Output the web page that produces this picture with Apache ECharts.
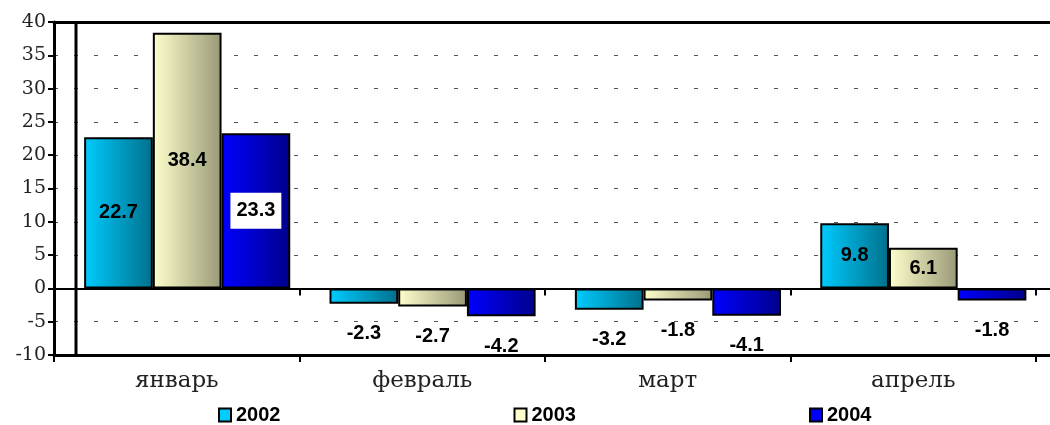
<!DOCTYPE html>
<html>
<head>
<meta charset="utf-8">
<script src="https://cdn.jsdelivr.net/npm/echarts@6/dist/echarts.min.js"></script>
<style>
  html, body { margin: 0; padding: 0; background: #fff; }
  #chart { width: 1050px; height: 425px; }
</style>
</head>
<body>
<div id="chart"></div>
<script>
const months = ['январь', 'февраль', 'март', 'апрель']
const years = ['2002', '2003', '2004']
const v2002 = [22.7, -2.3, -3.2, 9.8]
const v2003 = [38.4, -2.7, -1.8, 6.1]
const v2004 = [23.3, -4.2, -4.1, -1.8]
const yTicks = { min: -10, max: 40, interval: 5 }

const chart = echarts.init(document.getElementById('chart'), null, { renderer: 'canvas' })

// горизонтальный градиент, как в Excel
function grad(c0, c1) {
  return {
    type: 'linear', x: 0, y: 0, x2: 1, y2: 0,
    colorStops: [{ offset: 0, color: c0 }, { offset: 1, color: c1 }]
  }
}
const fills = [
  grad('#00CCFF', '#00708C'),
  grad('#FFFFCC', '#999977'),
  grad('#0000FF', '#00008C')
]
const flat = ['#00CCFF', '#FFFFCC', '#0000FF']

const labelFont = {
  fontFamily: 'Liberation Sans, Arial, sans-serif',
  fontWeight: 'bold',
  fontSize: 20,
  color: '#000'
}

function makeData(vals, si) {
  return vals.map((v, i) => {
    const item = {
      value: v,
      label: v >= 0
        ? { position: 'inside' }
        : { position: 'bottom', distance: 20 }
    }
    // январь 2004: подпись на белой подложке
    if (si === 2 && i === 0) {
      item.label.backgroundColor = '#fff'
      item.label.padding = [8, 6]
    }
    return item
  })
}

const seriesVals = [v2002, v2003, v2004]
const V = { top: 22, bottom: 70 }
const blackLine = w => ({ show: true, lineStyle: { color: '#000', width: w } })
const hiddenY = (gi, extra) => Object.assign({
  type: 'value', gridIndex: gi, ...yTicks,
  axisLine: { show: false }, axisTick: { show: false },
  axisLabel: { show: false }, splitLine: { show: false }
}, extra || {})
const lineX = (gi, pos, onZero, w) => ({
  type: 'value', gridIndex: gi, position: pos, min: 0, max: 1,
  axisLine: { show: true, onZero: onZero, lineStyle: { color: '#000', width: w } },
  axisTick: { show: false }, axisLabel: { show: false }, splitLine: { show: false }
})

chart.setOption({
  animation: false,
  backgroundColor: '#fff',
  grid: [
    { left: 54, right: 14, ...V },   // категории: подписи и засечки
    { left: 54, right: 0, ...V },    // рамка, ноль, сетка
    { left: 64.5, right: 4, ...V },  // столбцы (сдвинуты вправо, как в оригинале)
    { left: 54, right: 0, ...V }     // верхняя линия
  ],
  legend: {
    left: 218,
    top: 405,
    padding: 0,
    itemGap: 233,
    itemWidth: 12,
    itemHeight: 13,
    icon: 'rect',
    textStyle: {
      fontFamily: 'Liberation Sans, Arial, sans-serif',
      fontWeight: 'bold',
      fontSize: 20,
      color: '#000'
    },
    data: years.map((y, i) => ({
      name: y,
      itemStyle: { color: flat[i], borderColor: '#000', borderWidth: 2 }
    }))
  },
  xAxis: [
    {
      type: 'category', gridIndex: 0, data: months, position: 'bottom',
      axisLine: { show: false, onZero: false },
      axisTick: { show: true, length: 7, lineStyle: { color: '#000', width: 2 } },
      axisLabel: { margin: 15, fontFamily: 'DejaVu Serif, serif', fontSize: 23, color: '#222' },
      splitLine: { show: false }
    },
    {
      type: 'category', gridIndex: 0, data: months, position: 'top',
      axisLine: { show: false, onZero: true },
      axisTick: { show: true, inside: true, length: 7, lineStyle: { color: '#000', width: 2 } },
      axisLabel: { show: false }, splitLine: { show: false }
    },
    lineX(1, 'bottom', false, 3),
    lineX(1, 'top', true, 2),
    {
      type: 'category', gridIndex: 2, data: months,
      axisLine: { show: false }, axisTick: { show: false },
      axisLabel: { show: false }, splitLine: { show: false }
    },
    lineX(3, 'top', false, 3)
  ],
  yAxis: [
    {
      type: 'value', gridIndex: 0, ...yTicks,
      axisLine: blackLine(3),
      axisTick: { show: true, length: 6, lineStyle: { color: '#000', width: 2 } },
      axisLabel: { margin: 8, fontFamily: 'DejaVu Serif, serif', fontSize: 19, color: '#222' },
      splitLine: { show: false }
    },
    hiddenY(1, { splitLine: { show: true, lineStyle: { color: '#555', width: 1, type: [4, 16] } } }),
    hiddenY(2),
    hiddenY(3)
  ],
  series: years.map((y, si) => ({
    name: y,
    type: 'bar',
    xAxisIndex: 4,
    yAxisIndex: 2,
    barGap: '0%',
    barCategoryGap: '16%',
    z: 3,
    itemStyle: { color: fills[si], borderColor: '#000', borderWidth: 2 },
    label: Object.assign({ show: true }, labelFont),
    data: makeData(seriesVals[si], si)
  })),
  graphic: [
    {
      type: 'line',
      shape: { x1: 76, y1: 22, x2: 76, y2: 355 },
      style: { stroke: '#000', lineWidth: 3 },
      z: 10
    }
  ]
})
</script>
</body>
</html>
